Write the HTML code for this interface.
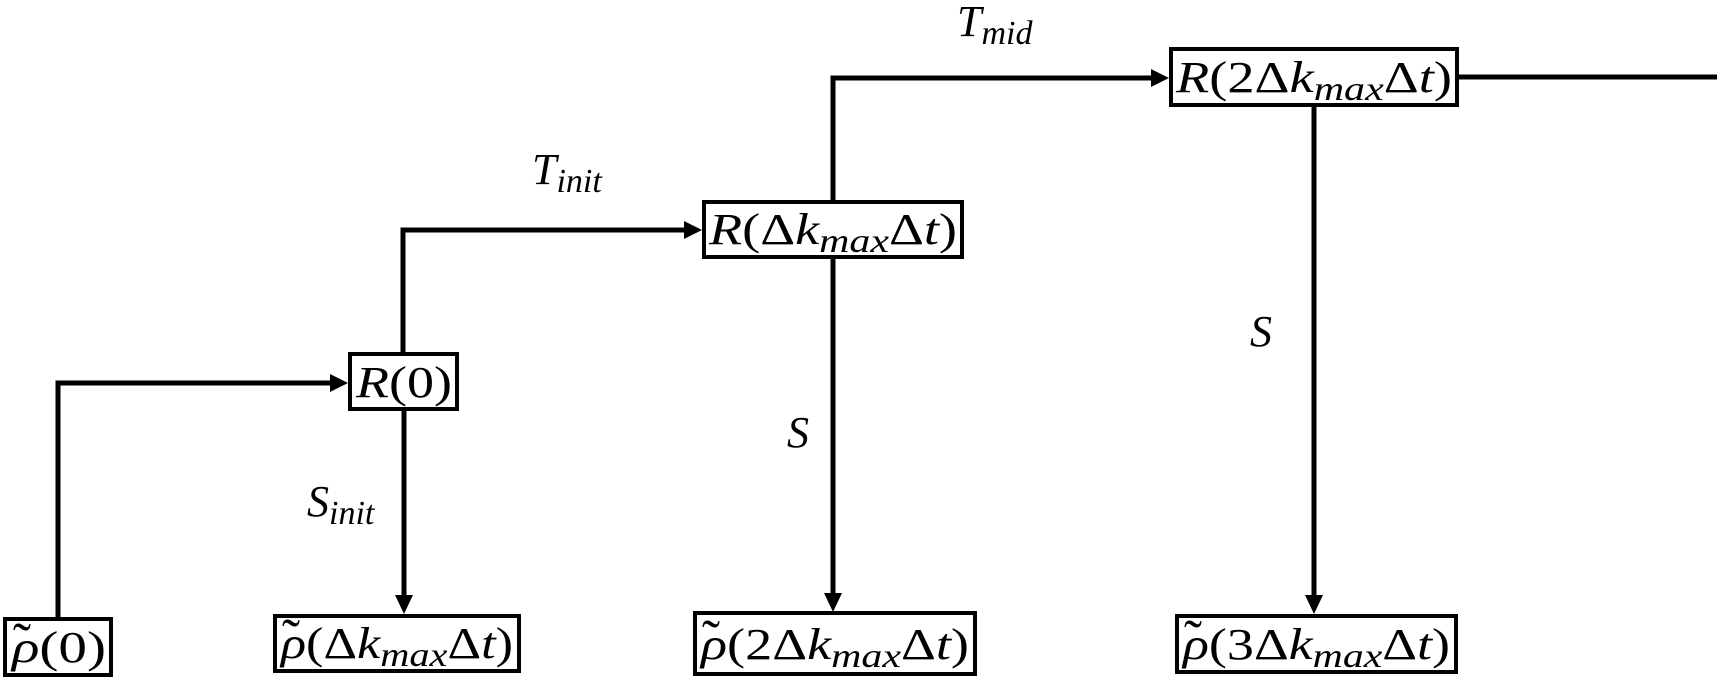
<!DOCTYPE html>
<html><head><meta charset="utf-8"><style>
html,body{margin:0;padding:0;background:#fff;}
svg{display:block;}
text{font-family:"Liberation Serif",serif;fill:#000;}
.i{font-style:italic;}
</style></head><body>
<svg width="1719" height="681" viewBox="0 0 1719 681" xmlns="http://www.w3.org/2000/svg">
<g fill="none" stroke="#000" stroke-width="5">
<polyline points="58,619 58,383 332,383"/>
<polyline points="403,354 403,230 686,230"/>
<polyline points="404,409 404,598"/>
<polyline points="833,202 833,78 1153,78"/>
<polyline points="833,257 833,596"/>
<polyline points="1314,105 1314,598"/>
<polyline points="1457,77 1717,77"/>
</g>
<g fill="#000">
<polygon points="348,383 330,374 330,392"/>
<polygon points="702,230 684,221 684,239"/>
<polygon points="404,614 395,595 413,595"/>
<polygon points="1169,78 1151,69 1151,87"/>
<polygon points="833,612 824,593 842,593"/>
<polygon points="1314,614 1305,595 1323,595"/>
</g>
<g fill="#fff" stroke="#000" stroke-width="4">
<rect x="5" y="619" width="106" height="56"/>
<rect x="350" y="354" width="107" height="55"/>
<rect x="275" y="616" width="244" height="55"/>
<rect x="704" y="202" width="258" height="55"/>
<rect x="695" y="613" width="280" height="61"/>
<rect x="1171" y="49" width="286" height="56"/>
<rect x="1177" y="616" width="279" height="56"/>
</g>
<g font-size="44">
<text x="12" y="662" textLength="94" lengthAdjust="spacingAndGlyphs"><tspan class="i">ρ</tspan>(0)</text>
<text x="13" y="660" font-size="54">˜</text>
<text x="356" y="397" textLength="96" lengthAdjust="spacingAndGlyphs"><tspan class="i">R</tspan>(0)</text>
<text x="281" y="658" textLength="232" lengthAdjust="spacingAndGlyphs"><tspan class="i">ρ</tspan>(Δ<tspan class="i">k</tspan><tspan class="i" font-size="34" dy="8">max</tspan><tspan dy="-8">Δ</tspan><tspan class="i">t</tspan>)</text>
<text x="282" y="656" font-size="54">˜</text>
<text x="709" y="244" textLength="248" lengthAdjust="spacingAndGlyphs"><tspan class="i">R</tspan>(Δ<tspan class="i">k</tspan><tspan class="i" font-size="34" dy="8">max</tspan><tspan dy="-8">Δ</tspan><tspan class="i">t</tspan>)</text>
<text x="701" y="659" textLength="268" lengthAdjust="spacingAndGlyphs"><tspan class="i">ρ</tspan>(2Δ<tspan class="i">k</tspan><tspan class="i" font-size="34" dy="8">max</tspan><tspan dy="-8">Δ</tspan><tspan class="i">t</tspan>)</text>
<text x="702" y="657" font-size="54">˜</text>
<text x="1176" y="92" textLength="276" lengthAdjust="spacingAndGlyphs"><tspan class="i">R</tspan>(2Δ<tspan class="i">k</tspan><tspan class="i" font-size="34" dy="8">max</tspan><tspan dy="-8">Δ</tspan><tspan class="i">t</tspan>)</text>
<text x="1183" y="659" textLength="267" lengthAdjust="spacingAndGlyphs"><tspan class="i">ρ</tspan>(3Δ<tspan class="i">k</tspan><tspan class="i" font-size="34" dy="8">max</tspan><tspan dy="-8">Δ</tspan><tspan class="i">t</tspan>)</text>
<text x="1184" y="657" font-size="54">˜</text>
<text class="i" x="307" y="516">S<tspan font-size="34" dy="8">init</tspan></text>
<text class="i" x="532" y="184">T<tspan font-size="34" dy="8">init</tspan></text>
<text class="i" x="957" y="36">T<tspan font-size="34" dy="8">mid</tspan></text>
<text class="i" x="787" y="447">S</text>
<text class="i" x="1250" y="346">S</text>
</g>
</svg>
</body></html>
